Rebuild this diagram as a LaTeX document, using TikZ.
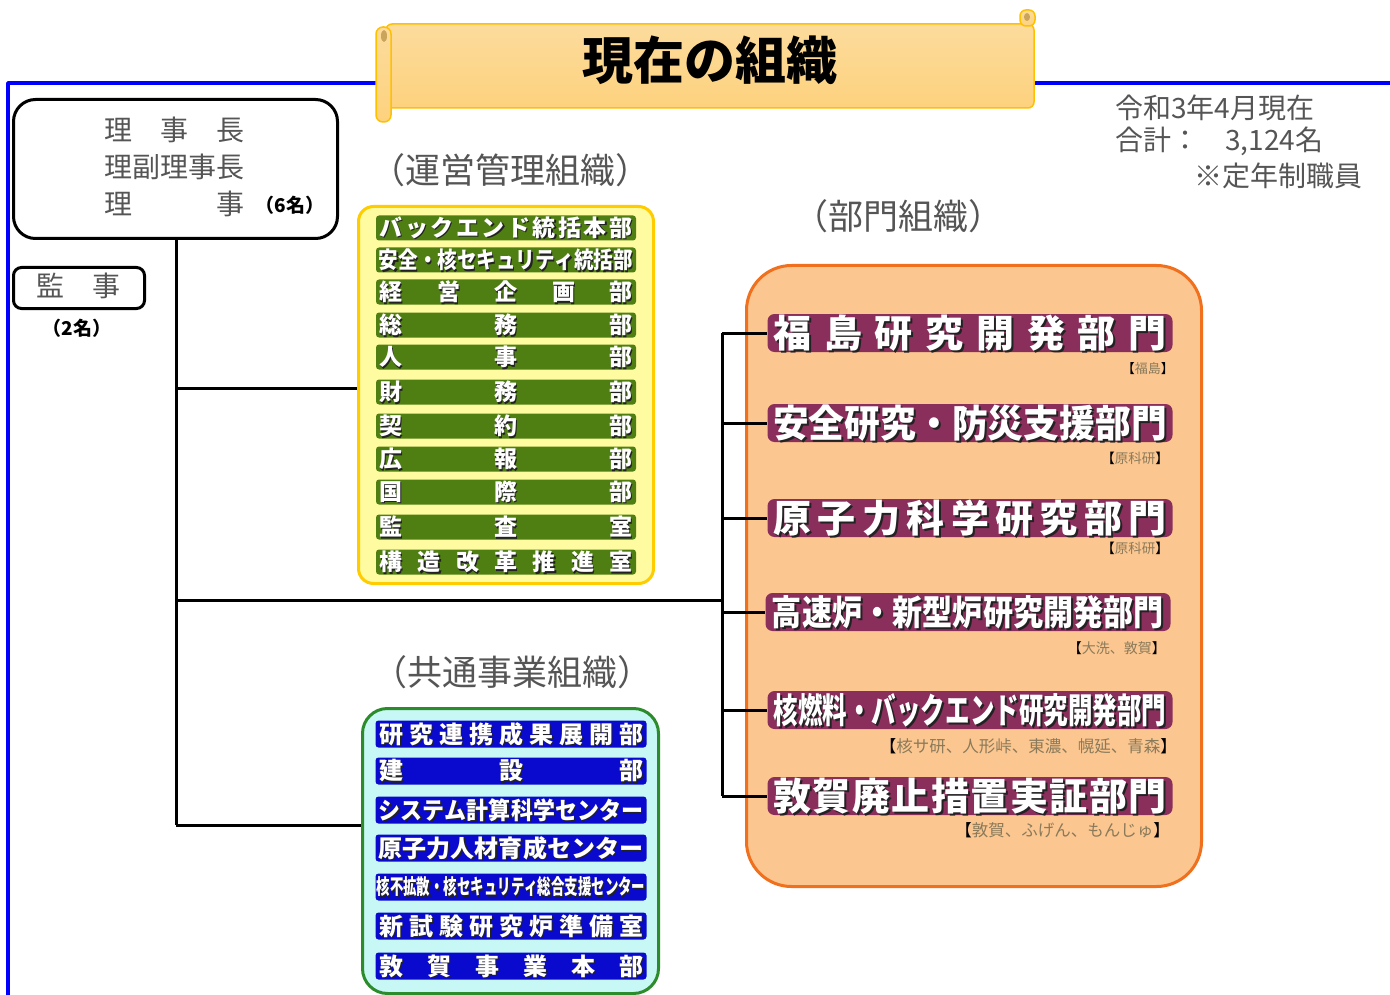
\documentclass[tikz,border=0pt]{standalone}
\usepackage{fontspec}
\usepackage{graphicx}
\setmainfont{Noto Sans CJK JP}
\definecolor{framec}{HTML}{0000FF}
\definecolor{tA}{HTML}{FCDB9C}
\definecolor{tB}{HTML}{FDD27E}
\definecolor{tBorder}{HTML}{FFC000}
\definecolor{curlc}{HTML}{C9A45A}
\definecolor{grayt}{HTML}{555555}
\definecolor{yfill}{HTML}{FFFBA0}
\definecolor{yborder}{HTML}{FFCC00}
\definecolor{greenbar}{HTML}{4F7F12}
\definecolor{cfill}{HTML}{C8F8F6}
\definecolor{gborder}{HTML}{2C8C2C}
\definecolor{bluebar}{HTML}{0A0ACF}
\definecolor{ofill}{HTML}{FBC690}
\definecolor{oborder}{HTML}{F0701E}
\definecolor{plum}{HTML}{8A2E5C}
\definecolor{shadowc}{HTML}{222222}
\definecolor{subc}{HTML}{8A7A5A}
\makeatletter
\newcommand\spch[1]{\def\spsep{}\@tfor\spc:=#1\do{\spsep\spc\def\spsep{\hfill}}}
\makeatother
\newcommand\sbar[3]{\scalebox{#2}[1]{\makebox[#1pt]{\spch{#3}}}}
\newcommand\shad[2]{\makebox[0pt][l]{\raisebox{-#1}[0pt][0pt]{\kern#1\textcolor{shadowc}{#2}}}\textcolor{white}{#2}}
\newcommand\fs[1]{\fontsize{#1}{#1}\selectfont}
\tikzset{
  conn/.style={line width=3, black},
  boxst/.style={draw=black, line width=3, fill=white, inner sep=0},
  txtg/.style={text=grayt, inner sep=0, font=\fs{28}},
  grouplabel/.style={text=grayt, inner sep=0, font=\fs{35}},
  gbar/.style={fill=greenbar, rounded corners=3, minimum width=260, minimum height=25, inner sep=0, font=\fs{23}\bfseries},
  bbar/.style={fill=bluebar, rounded corners=3, minimum width=271, minimum height=27, inner sep=0, font=\fs{24}\bfseries},
  pbar/.style={fill=plum, rounded corners=7, minimum width=405, minimum height=38, inner sep=0, font=\fs{38}\bfseries},
  sub/.style={anchor=east, inner sep=0},
}
\begin{document}
\begin{tikzpicture}[x=1pt,y=-1pt,line join=round]
\useasboundingbox (0,0) rectangle (1390,995);
\fill[white] (0,0) rectangle (1390,995);
% blue frame
\draw[framec, line width=3.5] (1390,83) -- (8,83) -- (8,995);
% title scroll
\shade[top color=tA, bottom color=tB, draw=tBorder, line width=1.5, rounded corners=6] (386,24) rectangle (1034,108);
\shade[top color=tA, bottom color=tB, draw=tBorder, line width=1.5, rounded corners=7] (376,27) rectangle (391,122);
\fill[curlc] (384,36) ellipse (3 and 6);
\shade[top color=tA, bottom color=tB, draw=tBorder, line width=1.5, rounded corners=6] (1020,10) rectangle (1035,26);
\fill[curlc] (1027,17) ellipse (3 and 4);
\node[inner sep=0, font=\fs{51}\bfseries] (title) at (710,60) {現在の組織};
% date / total
\node[txtg, anchor=west] (date) at (1115,108) {令和3年4月現在};
\node[txtg, anchor=west] (total) at (1115,141) {合計：\hspace{26pt}3,124名};
\node[txtg, anchor=east] (note) at (1363,176) {※定年制職員};
% board
\node[boxst, rounded corners=22, minimum width=324, minimum height=139, anchor=north west] (board) at (12,98) {};
\node[txtg, anchor=west] (bd1) at (104,130) {理　事　長};
\node[txtg, anchor=west] (bd2) at (104,167) {理副理事長};
\node[txtg, anchor=west] (bd3) at (104,204) {理　　　事};
\node[inner sep=0, font=\fs{19}\bfseries] (bd4) at (290,205) {（6名）};
% audit
\node[boxst, rounded corners=8, minimum width=131, minimum height=41, anchor=north west] (audit) at (12,266) {};
\node[txtg] (audt) at (78,286) {監　事};
\node[inner sep=0, font=\fs{19}\bfseries] (audn) at (77,328) {（2名）};
% group labels
\node[grouplabel] (lops) at (510,170) {（運営管理組織）};
\node[grouplabel] (ldiv) at (898,216) {（部門組織）};
\node[grouplabel] (lcom) at (512,672) {（共通事業組織）};
% group boxes
\node[draw=yborder, fill=yfill, line width=3, rounded corners=15, minimum width=295, minimum height=377, anchor=north west, inner sep=0] (ops) at (357,205) {};
\node[draw=gborder, fill=cfill, line width=3, rounded corners=25, minimum width=296, minimum height=285, anchor=north west, inner sep=0] (com) at (361,707) {};
\node[draw=oborder, fill=ofill, line width=3, rounded corners=45, minimum width=455, minimum height=621, anchor=north west, inner sep=0] (div) at (745,264) {};
% green bars
\node[gbar] (g1) at (506,228) {\shad{1.3pt}{\sbar{253}{1}{バックエンド統括本部}}};
\node[gbar] (g2) at (506,260) {\shad{1.3pt}{\sbar{298}{0.85}{安全・核セキュリティ統括部}}};
\node[gbar] (g3) at (506,292) {\shad{1.3pt}{\sbar{253}{1}{経営企画部}}};
\node[gbar] (g4) at (506,325) {\shad{1.3pt}{\sbar{253}{1}{総務部}}};
\node[gbar] (g5) at (506,357) {\shad{1.3pt}{\sbar{253}{1}{人事部}}};
\node[gbar] (g6) at (506,392) {\shad{1.3pt}{\sbar{253}{1}{財務部}}};
\node[gbar] (g7) at (506,426) {\shad{1.3pt}{\sbar{253}{1}{契約部}}};
\node[gbar] (g8) at (506,459) {\shad{1.3pt}{\sbar{253}{1}{広報部}}};
\node[gbar] (g9) at (506,492) {\shad{1.3pt}{\sbar{253}{1}{国際部}}};
\node[gbar] (g10) at (506,527) {\shad{1.3pt}{\sbar{253}{1}{監査室}}};
\node[gbar] (g11) at (506,562) {\shad{1.3pt}{\sbar{253}{1}{構造改革推進室}}};
% blue bars
\node[bbar] (c1) at (511,734) {\shad{1.3pt}{\sbar{264}{1}{研究連携成果展開部}}};
\node[bbar] (c2) at (511,771) {\shad{1.3pt}{\sbar{264}{1}{建設部}}};
\node[bbar] (c3) at (511,810) {\shad{1.3pt}{\sbar{289}{0.915}{システム計算科学センター}}};
\node[bbar] (c4) at (511,848) {\shad{1.3pt}{\sbar{265}{1}{原子力人材育成センター}}};
\node[bbar, font=\fs{21}\bfseries] (c5) at (511,887) {\shad{1.3pt}{\sbar{409}{0.64}{核不拡散・核セキュリティ総合支援センター}}};
\node[bbar] (c6) at (511,926) {\shad{1.3pt}{\sbar{264}{1}{新試験研究炉準備室}}};
\node[bbar] (c7) at (511,966) {\shad{1.3pt}{\sbar{264}{1}{敦賀事業本部}}};
% plum bars
\node[pbar] (p1) at (970,333) {\shad{2pt}{\sbar{393}{1}{福島研究開発部門}}};
\node[pbar] (p2) at (970,423) {\shad{2pt}{\sbar{419}{0.94}{安全研究・防災支援部門}}};
\node[pbar] (p3) at (970,518) {\shad{2pt}{\sbar{393}{1}{原子力科学研究部門}}};
\node[pbar, font=\fs{35}\bfseries] (p4) at (968,612) {\shad{2pt}{\sbar{456}{0.86}{高速炉・新型炉研究開発部門}}};
\node[pbar, font=\fs{35}\bfseries] (p5) at (970,710) {\shad{2pt}{\sbar{561}{0.70}{核燃料・バックエンド研究開発部門}}};
\node[pbar] (p6) at (970,796) {\shad{2pt}{\sbar{393}{1}{敦賀廃止措置実証部門}}};
% site labels
\node[sub, font=\fs{13}] (s1) at (1174,369) {【\textcolor{subc}{福島}】};
\node[sub, font=\fs{13.5}] (s2) at (1169,458) {【\textcolor{subc}{原科研}】};
\node[sub, font=\fs{13.5}] (s3) at (1169,548) {【\textcolor{subc}{原科研}】};
\node[sub, font=\fs{14}] (s4) at (1166,648) {【\textcolor{subc}{大洗、敦賀}】};
\node[sub, font=\fs{16.5}] (s5) at (1177,746) {【\textcolor{subc}{核サ研、人形峠、東濃、幌延、青森}】};
\node[sub, font=\fs{16.5}] (s6) at (1170,830) {【\textcolor{subc}{敦賀、ふげん、もんじゅ}】};
% connectors
\coordinate (ja) at (176,388);
\coordinate (jb) at (176,600);
\coordinate (jc) at (176,825);
\coordinate (bk) at (722,600);
\draw[conn] (board.south -| ja) -- (jc);
\draw[conn] (ja) -- (ops.west |- ja);
\draw[conn] (jb) -- (bk);
\draw[conn] (jc) -- (com.west |- jc);
\draw[conn] (p1.west -| bk) -- (p6.west -| bk);
\foreach \p in {p1,p2,p3,p4,p5,p6} \draw[conn] (\p.west -| bk) -- (\p.west);
\end{tikzpicture}
\end{document}
